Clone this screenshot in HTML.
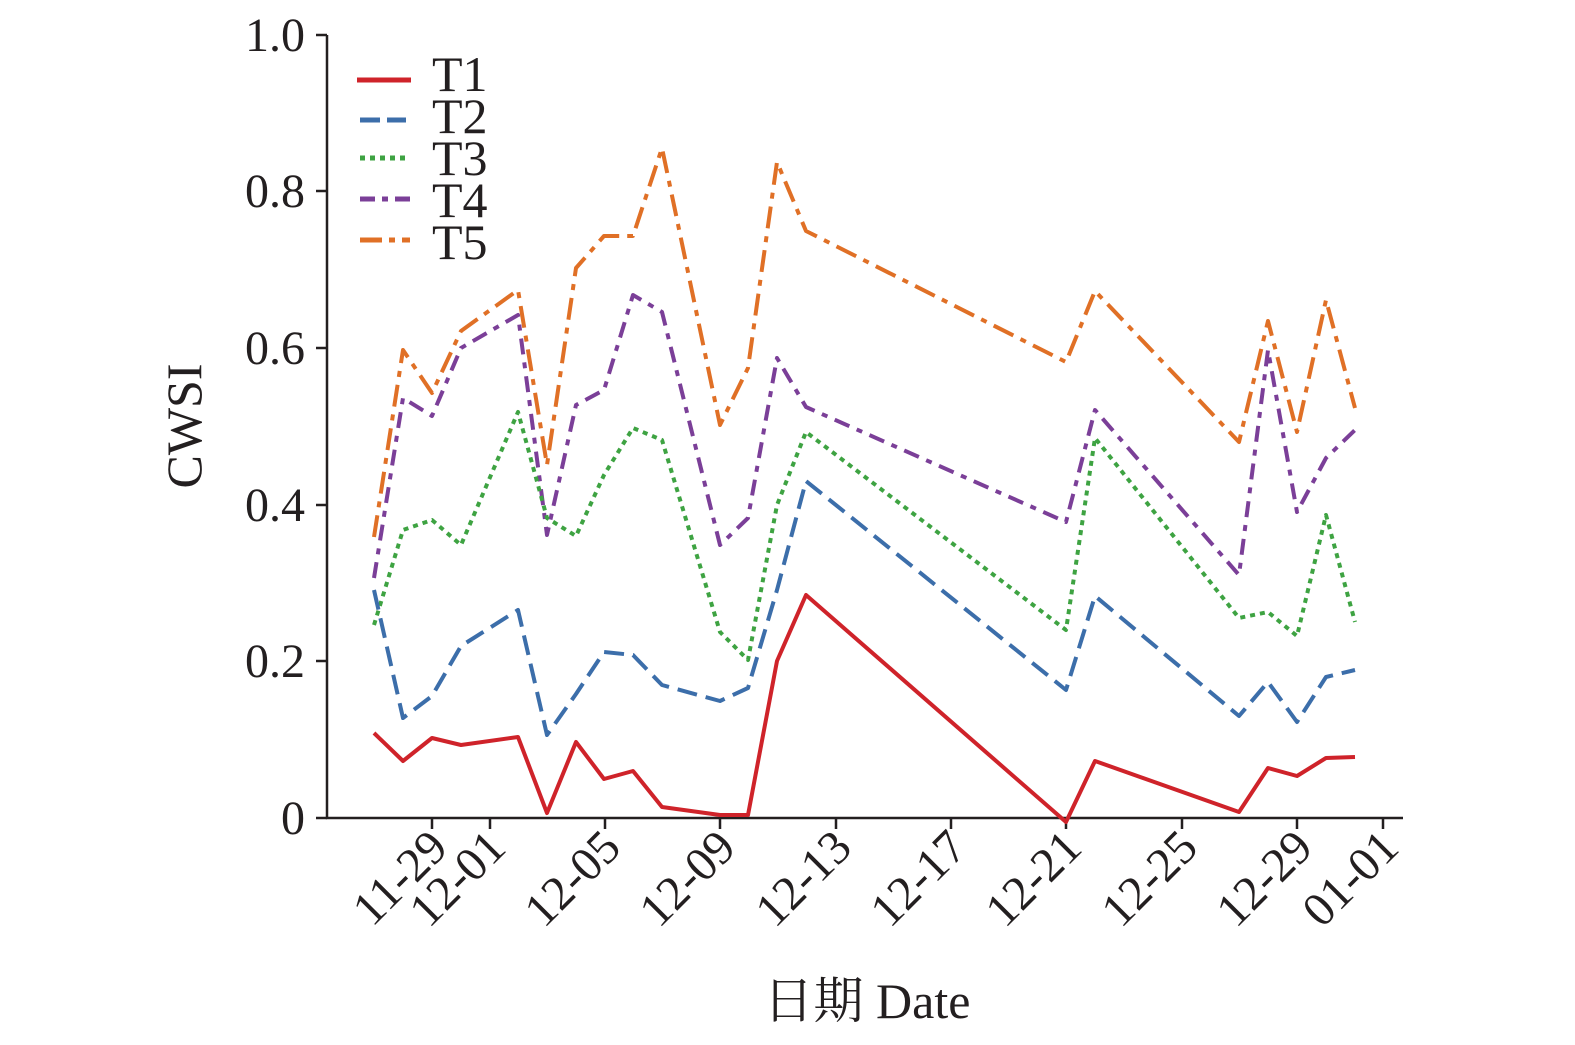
<!DOCTYPE html>
<html><head><meta charset="utf-8"><style>body{margin:0;background:#fff}svg{display:block}text{font-family:"Liberation Serif","Noto Serif CJK SC",serif;fill:#231f20}</style></head><body>
<svg width="1575" height="1045" viewBox="0 0 1575 1045">
<g stroke="#231f20" stroke-width="2.5" fill="none">
<path d="M327,35V818H1403"/>
<path d="M327,35h-11M327,191h-11M327,348h-11M327,505h-11M327,661h-11M327,818h-11"/>
<path d="M432,818v11M490,818v11M605,818v11M720,818v11M836,818v11M951,818v11M1066,818v11M1182,818v11M1297,818v11M1383,818v11"/>
</g>
<g font-size="48" text-anchor="end">
<text x="305" y="51">1.0</text><text x="305" y="207">0.8</text><text x="305" y="364">0.6</text><text x="305" y="521">0.4</text><text x="305" y="677">0.2</text><text x="305" y="834">0</text>
</g>
<g font-size="48" text-anchor="end">
<text transform="translate(450,850) rotate(-45)">11-29</text>
<text transform="translate(508,850) rotate(-45)">12-01</text>
<text transform="translate(623,850) rotate(-45)">12-05</text>
<text transform="translate(738,850) rotate(-45)">12-09</text>
<text transform="translate(854,850) rotate(-45)">12-13</text>
<text transform="translate(969,850) rotate(-45)">12-17</text>
<text transform="translate(1084,850) rotate(-45)">12-21</text>
<text transform="translate(1200,850) rotate(-45)">12-25</text>
<text transform="translate(1315,850) rotate(-45)">12-29</text>
<text transform="translate(1401,850) rotate(-45)">01-01</text>
</g>
<text x="867" y="1018" font-size="50" text-anchor="middle">日期 Date</text>
<text transform="translate(201,426) rotate(-90)" font-size="50" text-anchor="middle">CWSI</text>
<g fill="none" stroke-width="4" stroke-linejoin="round">
<polyline stroke="#e07026" stroke-dasharray="22,8,6,8" points="374,537 403,350 432,393 461,331 518,290 547,465 576,268 604,236 633,236 662,148 720,425 748,368 777,162 806,231 1066,362 1095,291 1239,442 1268,321 1297,432 1326,300 1355,408"/>
<polyline stroke="#7b3f98" stroke-dasharray="16,8,6,8" points="374,578 403,398 432,416 461,348 518,315 547,535 576,405 604,390 633,295 662,312 720,545 748,518 777,358 806,407 1066,522 1095,410 1239,575 1268,350 1297,512 1326,458 1355,430"/>
<polyline stroke="#3ea342" stroke-dasharray="5,5" points="374,625 403,530 432,520 461,545 518,412 547,518 576,536 604,475 633,428 662,440 720,632 748,660 777,505 806,432 1066,630 1095,438 1239,618 1268,612 1297,636 1326,515 1355,622"/>
<polyline stroke="#3c6eaa" stroke-dasharray="20,9" points="374,590 403,718 432,696 461,646 518,610 547,735 576,694 604,652 633,655 662,685 720,701 748,688 777,590 806,481 1066,690 1095,596 1239,716 1268,682 1297,722 1326,677 1355,670"/>
<polyline stroke="#cf232a" points="374,733 403,761 432,738 461,745 518,737 547,813 576,742 604,779 633,771 662,807 720,815 748,815 777,661 806,595 1066,822 1095,761 1239,812 1268,768 1297,776 1326,758 1355,757"/>
</g>
<g stroke-width="5" fill="none">
<path d="M357,80h54" stroke="#cf232a"/>
<path d="M360,120h46" stroke="#3c6eaa" stroke-dasharray="20,7"/>
<path d="M360,158h50" stroke="#3ea342" stroke-dasharray="5,5"/>
<path d="M360,199h50" stroke="#7b3f98" stroke-dasharray="15,7,6,7"/>
<path d="M360,240h50" stroke="#e07026" stroke-dasharray="22,7,6,7"/>
</g>
<g font-size="50"><text x="432" y="91">T1</text><text x="432" y="133">T2</text><text x="432" y="175">T3</text><text x="432" y="217">T4</text><text x="432" y="259">T5</text></g>
</svg></body></html>
